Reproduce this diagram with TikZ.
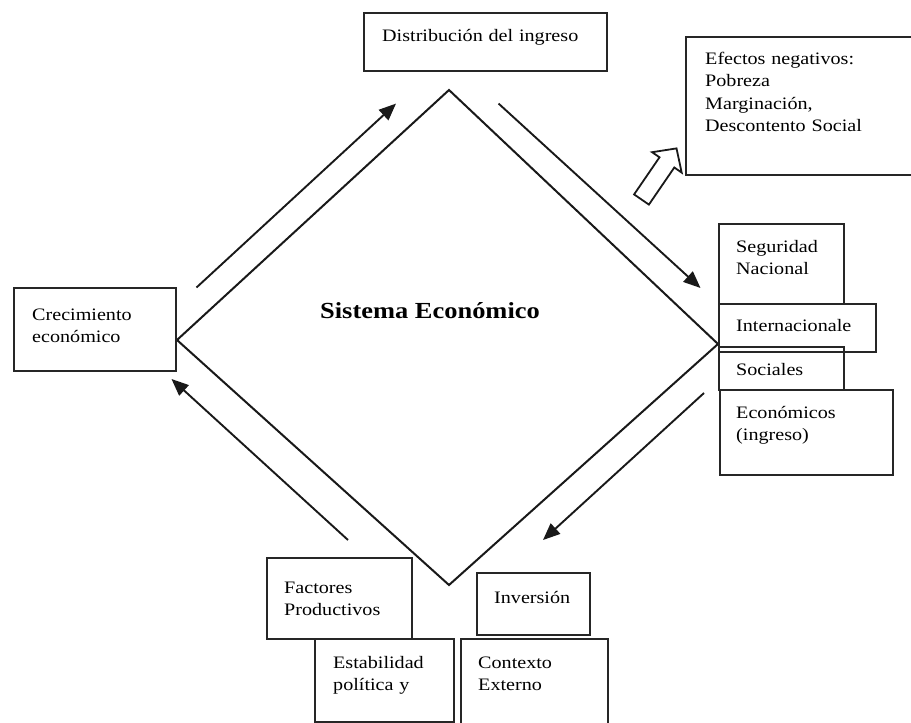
\documentclass[tikz,border=0pt]{standalone}
\usepackage{fontspec}
\setmainfont{Liberation Serif}[FakeStretch=1.15]
\usetikzlibrary{arrows.meta}
\tikzset{
  box/.style={draw=black!85, line width=1.5pt, anchor=north west, inner sep=0pt, outer sep=0pt},
  txt/.style={anchor=base west, inner sep=0pt, align=left, text width=220pt, text=black,
              font={\fontsize{17.5}{22.5}\selectfont}},
  flow/.style={draw=black!90, line width=1.9pt, -{Triangle[length=17pt,width=14pt]}},
  diam/.style={draw=black!90, line width=2pt, line join=miter},
}
\begin{document}
\begin{tikzpicture}[x=1pt,y=-1pt]
\useasboundingbox (0,0) rectangle (911,723);
% diamond
\coordinate (dtop) at (449,90);
\coordinate (dleft) at (177,340);
\coordinate (dright) at (718,344);
\coordinate (dbot) at (449,585);
\draw[diam] (dtop) -- (dright) -- (dbot) -- (dleft) -- cycle;
\node[inner sep=0pt, anchor=base, font={\fontsize{23}{27}\selectfont\bfseries}] (sist) at (430,318) {Sistema Económico};
% boxes
\node[box, minimum width=243pt, minimum height=58pt] (dist) at (364,13) {};
\node[box, minimum width=230pt, minimum height=138pt] (efec) at (686,37) {};
\node[box, minimum width=125pt, minimum height=80pt] (seg) at (719,224) {};
\node[box, minimum width=157pt, minimum height=48pt] (intl) at (719,304) {};
\node[box, minimum width=125pt, minimum height=43pt] (soc) at (719,347) {};
\node[box, minimum width=173pt, minimum height=85pt] (eco) at (720,390) {};
\node[box, minimum width=162pt, minimum height=83pt] (crec) at (14,288) {};
\node[box, minimum width=145pt, minimum height=81pt] (fact) at (267,558) {};
\node[box, minimum width=113pt, minimum height=62pt] (inv) at (477,573) {};
\node[box, minimum width=139pt, minimum height=83pt] (estab) at (315,639) {};
\node[box, minimum width=147pt, minimum height=90pt] (ctx) at (461,639) {};
% texts
\node[txt] (tdist) at (382,41) {Distribución del ingreso};
\node[txt] (tefec) at (705,64) {Efectos negativos:\\Pobreza\\Marginación,\\Descontento Social};
\node[txt] (tseg) at (736,252) {Seguridad\\Nacional};
\node[txt] (tintl) at (736,331) {Internacionale};
\node[txt] (tsoc) at (736,375) {Sociales};
\node[txt] (teco) at (736,418) {Económicos\\(ingreso)};
\node[txt] (tcrec) at (32,320) {Crecimiento\\económico};
\node[txt] (tfact) at (284,593) {Factores\\Productivos};
\node[txt] (tinv) at (494,603) {Inversión};
\node[txt] (testab) at (333,668) {Estabilidad\\política y};
\node[txt] (tctx) at (478,668) {Contexto\\Externo};
% flow arrows
\coordinate (a1s) at (196.5,287.5); \coordinate (a1e) at (396,103.6);
\coordinate (a2s) at (498.6,103.6); \coordinate (a2e) at (700.5,288);
\coordinate (a3s) at (704,393);     \coordinate (a3e) at (543,540);
\coordinate (a4s) at (348,540);     \coordinate (a4e) at (171.5,379);
\draw[flow] (a1s) -- (a1e);
\draw[flow] (a2s) -- (a2e);
\draw[flow] (a3s) -- (a3e);
\draw[flow] (a4s) -- (a4e);
% hollow arrow
\draw[draw=black!90, line width=1.8pt, line join=miter, fill=white]
  (634.1,194.4) -- (659.5,157.3) -- (652.1,152.2) -- (676.5,148.4) --
  (681.7,172.6) -- (674.3,167.5) -- (648.9,204.6) -- cycle;
\end{tikzpicture}
\end{document}
